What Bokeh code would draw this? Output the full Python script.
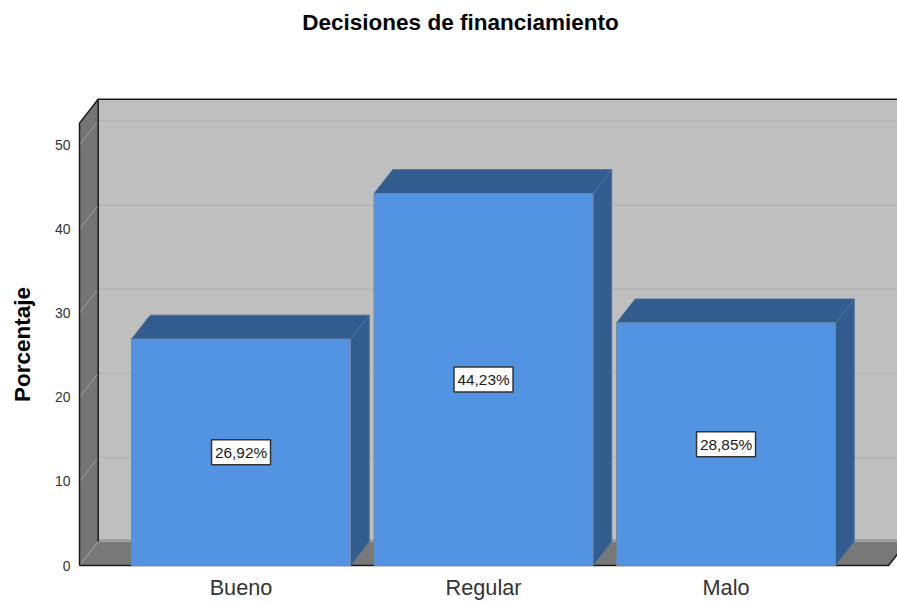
import math
from bokeh.plotting import figure
from bokeh.embed import file_html
from bokeh.resources import INLINE
from bokeh.core.properties import value
from bokeh.models import Range1d, FixedTicker, ColumnDataSource, Label

categories = ["Bueno", "Regular", "Malo"]
percentages = [26.92, 44.23, 28.85]
labels = ["26,92%", "44,23%", "28,85%"]
y_ticks = [0, 10, 20, 30, 40, 50]

FONT = "Liberation Sans"
BAR = "#5294e2"
BAR_DARK = "#335c8e"
BAR_EDGE = "#4d6f96"
WALL_BACK = "#bfbfbf"
WALL_SIDE = "#757575"
FLOOR = "#787878"
GRID = "#b4b4b4"

# box geometry in data units
dx, dy = 0.077, 2.84
left, right_front = -0.666, 2.67
wall_top = 52.6
bw = 0.903

# the plot frame fills the whole page, so the title, axis labels and tick labels all sit inside it
p = figure(width=897, height=605, output_backend="svg", toolbar_location=None,
           x_range=Range1d(-0.9918, 2.707), y_range=Range1d(-4.756, 67.18),
           background_fill_color="white", border_fill_color="white",
           min_border_left=0, min_border_right=0, min_border_top=0, min_border_bottom=0,
           outline_line_color=None)

# back wall, side wall, floor
p.quad(left=[left + dx], right=[right_front + dx + 0.2], bottom=[dy], top=[wall_top + dy],
       fill_color=WALL_BACK, line_color=None)
p.patch([left, left + dx, left + dx, left], [0, dy, wall_top + dy, wall_top],
        fill_color=WALL_SIDE, line_color=None)
p.patch([left, right_front, right_front + dx, left + dx], [0, 0, dy, dy],
        fill_color=FLOOR, line_color=None)
p.segment([left + dx], [dy + 0.15], [right_front + dx], [dy + 0.15], line_color="#9a9a9a", line_width=2)

# gridlines
gt = [t for t in y_ticks if t > 0]
p.segment([left + dx] * len(gt), [t + dy for t in gt], [right_front + dx + 0.2] * len(gt), [t + dy for t in gt],
          line_color=GRID, line_width=1.5)
p.segment([left] * len(y_ticks), y_ticks, [left + dx] * len(y_ticks), [t + dy for t in y_ticks],
          line_color="#a0a0a0", line_width=1)

# box edges
edge = "#1a1a1a"
p.line([left, left, left + dx, right_front + 0.3], [0, wall_top, wall_top + dy, wall_top + dy], line_color=edge, line_width=1.5)
p.line([left + dx, left + dx], [dy, wall_top + dy], line_color=edge, line_width=1.5)
p.line([left, right_front, right_front + dx], [0, 0, dy], line_color=edge, line_width=1.5)

# bars
xs = list(range(len(categories)))
x0 = [x - bw / 2 for x in xs]
x1 = [x + bw / 2 for x in xs]
p.patches([[a, b, b + dx, a + dx] for a, b in zip(x0, x1)],
          [[v, v, v + dy, v + dy] for v in percentages],
          fill_color=BAR_DARK, line_color=BAR_EDGE, line_width=1)
p.patches([[b, b + dx, b + dx, b] for b in x1],
          [[0, dy, v + dy, v] for v in percentages],
          fill_color=BAR_DARK, line_color=BAR_EDGE, line_width=1)
p.quad(left=x0, right=x1, bottom=0, top=percentages, fill_color=BAR, line_color="#6f8aa8", line_width=1)

# value labels
src = ColumnDataSource(dict(x=xs, y=[v / 2 for v in percentages], t=labels))
p.rect("x", "y", width=59, height=25, width_units="screen", height_units="screen", source=src,
       fill_color="white", line_color="#333333", line_width=1.5)
p.text("x", "y", text="t", source=src, text_align="center", text_baseline="middle",
       text_font=value(FONT), text_font_size="15.4px", text_color="#1a1a1a")

# axes
p.xgrid.visible = False
p.ygrid.visible = False
p.xaxis.fixed_location = 0
p.xaxis.ticker = FixedTicker(ticks=xs)
p.xaxis.major_label_overrides = {i: c for i, c in zip(xs, categories)}
p.xaxis.axis_line_color = None
p.xaxis.major_tick_line_color = None
p.xaxis.minor_tick_line_color = None
p.xaxis.major_label_text_font = FONT
p.xaxis.major_label_text_font_size = "21.7px"
p.xaxis.major_label_text_color = "#333333"
p.xaxis.major_label_standoff = 3

p.yaxis.fixed_location = left
p.yaxis.ticker = FixedTicker(ticks=y_ticks)
p.yaxis.axis_line_color = None
p.yaxis.major_tick_line_color = None
p.yaxis.minor_tick_line_color = None
p.yaxis.major_label_text_font = FONT
p.yaxis.major_label_text_font_size = "14px"
p.yaxis.major_label_text_color = "#333333"
p.yaxis.major_label_standoff = 3
p.yaxis.major_label_orientation = "horizontal"

# screen units count from the frame's lower left
p.add_layout(Label(x=460, y=583, x_units="screen", y_units="screen",
                   text="Decisiones de financiamiento", text_align="center", text_baseline="middle",
                   text_font=FONT, text_font_style="bold", text_font_size="22.5px", text_color="black"))
p.add_layout(Label(x=22, y=261, x_units="screen", y_units="screen", angle=math.pi / 2,
                   text="Porcentaje", text_align="center", text_baseline="middle",
                   text_font=FONT, text_font_style="bold", text_font_size="22.5px", text_color="black"))

open("out.html", "w").write(file_html(p, INLINE))
